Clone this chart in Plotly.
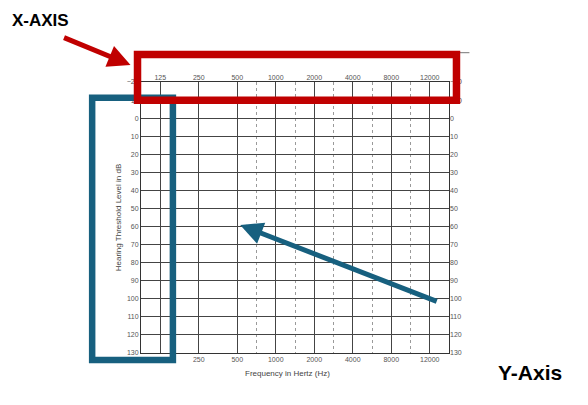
import plotly.graph_objects as go

# ---- data ----
freq_labels = ["125", "250", "500", "1000", "2000", "4000", "8000", "12000"]
freq_pos = [0, 1, 2, 3, 4, 5, 6, 7]
half_octave_pos = [2.5, 3.5, 4.5, 5.5, 6.5]
db_levels = [-20, -10, 0, 10, 20, 30, 40, 50, 60, 70, 80, 90, 100, 110, 120, 130]

W, H = 588, 405
L, R, T, B = 140.5, 449.5, 82, 353
PW, PH = R - L, B - T


def px(x):
    return (x - L) / PW


def py(y):
    return 1 - (y - T) / PH


FONT = "Arial, Liberation Sans, sans-serif"
GRID = "#444444"
TICKC = "#555555"
RED = "#C00000"
BLUE = "#17607F"

fig = go.Figure()
fig.add_trace(go.Scatter(x=[freq_pos[0], freq_pos[-1]], y=[db_levels[0], db_levels[-1]],
                         mode="markers", marker=dict(opacity=0), hoverinfo="skip",
                         showlegend=False, xaxis="x", yaxis="y"))
fig.add_trace(go.Scatter(x=[freq_pos[0], freq_pos[-1]], y=[db_levels[0], db_levels[-1]],
                         mode="markers", marker=dict(opacity=0), hoverinfo="skip",
                         showlegend=False, xaxis="x2", yaxis="y2"))

xcommon = dict(range=[freq_pos[0] - 0.5, freq_pos[-1] + 0.5], tickmode="array",
               tickvals=freq_pos, ticktext=freq_labels, ticks="", zeroline=False,
               tickfont=dict(family=FONT, size=7, color=TICKC))
ycommon = dict(range=[db_levels[-1], db_levels[0]], tickmode="array",
               tickvals=db_levels, ticks="", zeroline=False,
               tickfont=dict(family=FONT, size=7, color=TICKC))

fig.update_layout(
    width=W, height=H,
    margin=dict(l=L, r=W - R, t=T, b=H - B),
    paper_bgcolor="white", plot_bgcolor="white",
    showlegend=False,
    xaxis=dict(**xcommon, side="bottom", showgrid=True, gridcolor=GRID, gridwidth=1,
               showline=True, linecolor="#333333", linewidth=1, mirror=True,
               minor=dict(tickvals=half_octave_pos, showgrid=True, gridcolor="#9a9a9a",
                          griddash="dot", gridwidth=1, ticks="")),
    xaxis2=dict(**xcommon, side="top", overlaying="x", matches="x", showgrid=False,
                showline=False),
    yaxis=dict(**ycommon, side="left", showgrid=True, gridcolor=GRID, gridwidth=1,
               showline=True, linecolor="#333333", linewidth=1, mirror=True,
               title=dict(text="Hearing Threshold Level in dB",
                          font=dict(family=FONT, size=8, color="#444444"), standoff=3)),
    yaxis2=dict(**ycommon, side="right", overlaying="y", matches="y", showgrid=False,
                showline=False, anchor="x"),
)

# axis title for frequency
fig.add_annotation(text="Frequency in Hertz (Hz)", xref="paper", yref="paper",
                   x=px(287), y=py(373), xanchor="center", yanchor="middle",
                   showarrow=False, font=dict(family=FONT, size=8, color="#444444"))

# callout labels
fig.add_annotation(text="<b>X-AXIS</b>", xref="paper", yref="paper",
                   x=px(40), y=py(21), xanchor="center", yanchor="middle",
                   showarrow=False, font=dict(family=FONT, size=17, color="black"))
fig.add_annotation(text="<b>Y-Axis</b>", xref="paper", yref="paper",
                   x=px(531), y=py(372), xanchor="center", yanchor="middle",
                   showarrow=False, font=dict(family=FONT, size=21, color="black"))

# thin gray line at top right
fig.add_shape(type="line", xref="paper", yref="paper",
              x0=px(440), x1=px(470), y0=py(52.7), y1=py(52.7),
              line=dict(color="#777777", width=1))

# highlight boxes
fig.add_shape(type="rect", xref="paper", yref="paper",
              x0=px(91.5), x1=px(172.5), y0=py(97.7), y1=py(360),
              line=dict(color=BLUE, width=6.5), fillcolor="rgba(0,0,0,0)")
fig.add_shape(type="rect", xref="paper", yref="paper",
              x0=px(137), x1=px(457), y0=py(54.5), y1=py(100.3),
              line=dict(color=RED, width=7.5), fillcolor="rgba(0,0,0,0)")

# arrows
fig.add_annotation(text="", xref="paper", yref="paper", x=px(130), y=py(65),
                   ax=62 - 130, ay=37 - 65, showarrow=True, arrowhead=2,
                   arrowsize=0.9, arrowwidth=5, arrowcolor=RED, standoff=0)
fig.add_annotation(text="", xref="paper", yref="paper", x=px(240), y=py(225),
                   ax=438 - 240, ay=302 - 225, showarrow=True, arrowhead=2,
                   arrowsize=0.9, arrowwidth=5, arrowcolor=BLUE, standoff=0)

fig.write_html("out.html", config={"displayModeBar": False},
               post_script="document.body.style.margin='0';document.body.style.padding='0';")
